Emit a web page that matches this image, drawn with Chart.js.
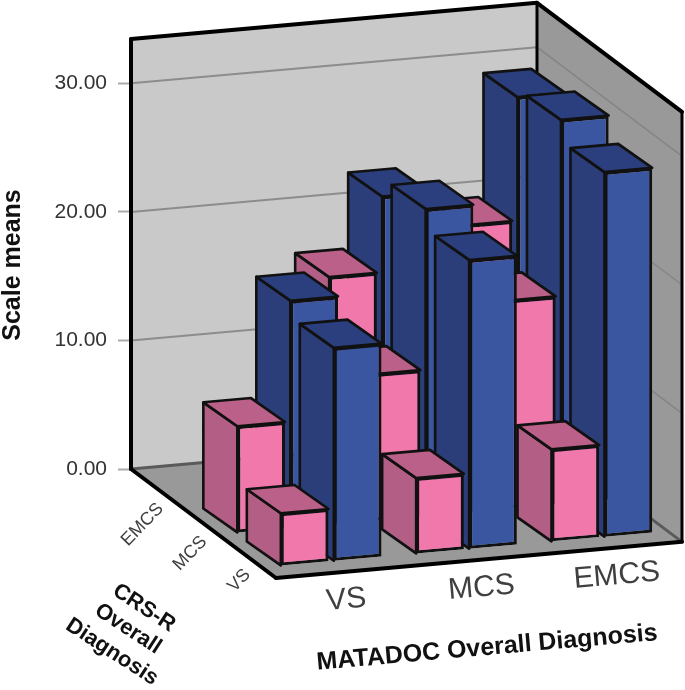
<!DOCTYPE html>
<html>
<head>
<meta charset="utf-8">
<style>
  body { margin: 0; background: #fff; }
  canvas { display: block; }
</style>
<script src="https://cdn.jsdelivr.net/npm/chart.js@4"></script>
</head>
<body>
<canvas class="js-chart" width="685" height="690"></canvas>
<script>
const xLabels = ['VS', 'MCS', 'EMCS'];
const rowLabels = ['VS', 'MCS', 'EMCS'];
const yTickStep = 10;
const yMax = 33.45;

// one pair of arrays per CRS-R row, values follow xLabels
const pinkRowVS = [4.1, 5.9, 7.2];
const blueRowVS = [16.6, 22.5, 28.4];
const pinkRowMCS = [8.3, 11.4, 16.2];
const blueRowMCS = [17.7, 23.9, 29.9];
const pinkRowEMCS = [null, 16.4, 19.5];
const blueRowEMCS = [null, 22.3, 29.1];

const PINK = { front: '#f178aa', side: '#b35f85', top: '#bb6089' };
const BLUE = { front: '#3a56a0', side: '#2b3e7a', top: '#2b3f7e' };

// oblique view of the box
const SHEAR = -0.089;
const ROW_SHIFT = [[132.5, 98.5], [89, 65.5], [45.5, 32.5]];
const FLOOR_SHIFT = [145, 109];
const BAR_DEPTH = [-34, -27];

function path(c, pts) {
    c.beginPath();
    pts.forEach((p, i) => (i ? c.lineTo(p[0], p[1]) : c.moveTo(p[0], p[1])));
    c.closePath();
}

function line(c, a, b, color, width) {
    c.strokeStyle = color;
    c.lineWidth = width;
    c.lineCap = 'round';
    c.beginPath();
    c.moveTo(a[0], a[1]);
    c.lineTo(b[0], b[1]);
    c.stroke();
}

function label(c, text, x, y, angle, font, color, align) {
    c.save();
    c.translate(x, y);
    c.rotate(angle * Math.PI / 180);
    c.font = font;
    c.fillStyle = color;
    c.textAlign = align || 'center';
    c.textBaseline = 'middle';
    c.fillText(text, 0, 0);
    c.restore();
}

const boxPlugin = {
    id: 'box',
    beforeDatasetsDraw(chart) {
        const c = chart.ctx;
        const { left, right, top, bottom } = chart.chartArea;
        const rise = SHEAR * (right - left);
        const [fx, fy] = FLOOR_SHIFT;
        const backTL = [left, top], backBL = [left, bottom];
        const backTR = [right, top + rise], backBR = [right, bottom + rise];
        const frontTR = [right + fx, top + rise + fy], frontBR = [right + fx, bottom + rise + fy];
        const frontBL = [left + fx, bottom + fy];

        c.save();
        c.fillStyle = '#c9c9c9';
        path(c, [backTL, backTR, backBR, backBL]);
        c.fill();
        c.fillStyle = '#999999';
        path(c, [backTR, frontTR, frontBR, backBR]);
        c.fill();
        path(c, [backBL, backBR, frontBR, frontBL]);
        c.fill();

        chart.scales.y.ticks.forEach((t) => {
            if (t.value === 0) return;
            const y = chart.scales.y.getPixelForValue(t.value);
            line(c, [left, y], [right, y + rise], '#8c8c8c', 2);
            line(c, [right, y + rise], [right + fx, y + rise + fy], '#858585', 1.5);
        });

        line(c, backBL, backBR, '#5a5a5a', 3);
        line(c, backBR, frontBR, '#5a5a5a', 3);
        line(c, backTL, backBL, '#000', 4);
        line(c, backTL, backTR, '#000', 4);
        line(c, backTR, backBR, '#000', 3);
        line(c, backTR, frontTR, '#000', 4);
        line(c, frontTR, frontBR, '#000', 3);
        line(c, backBL, frontBL, '#000', 4);
        line(c, frontBL, frontBR, '#000', 4);
        c.restore();
    },
    beforeDatasetDraw(chart, args) {
        const c = chart.ctx;
        const ds = chart.data.datasets[args.index];
        const [dx, dy] = ROW_SHIFT[ds.row];
        const [bx, by] = BAR_DEPTH;
        c.save();
        c.transform(1, SHEAR, 0, 1, dx, dy - SHEAR * chart.chartArea.left);
        c.lineWidth = 2.6;
        c.lineJoin = 'round';
        c.strokeStyle = '#111';
        args.meta.data.forEach((bar, i) => {
            if (ds.data[i] === null) return;
            const x0 = bar.x - bar.width / 2;
            const x1 = bar.x + bar.width / 2;
            c.fillStyle = ds.faces.side;
            path(c, [[x0, bar.y], [x0 + bx, bar.y + by], [x0 + bx, bar.base + by], [x0, bar.base]]);
            c.fill();
            c.stroke();
            c.fillStyle = ds.faces.top;
            path(c, [[x0, bar.y], [x1, bar.y], [x1 + bx, bar.y + by], [x0 + bx, bar.y + by]]);
            c.fill();
            c.stroke();
        });
    },
    afterDatasetDraw(chart) {
        chart.ctx.restore();
    },
    afterDraw(chart) {
        const c = chart.ctx;
        const { left, bottom } = chart.chartArea;
        const xScale = chart.scales.x;
        xLabels.forEach((text, i) => {
            const px = xScale.getPixelForTick(i);
            label(c, text, px + 147.5, bottom + SHEAR * (px - left) + 137, -5, '30px "Liberation Sans"', '#404040');
        });
        rowLabels.forEach((text, i) => {
            const [dx, dy] = ROW_SHIFT[i];
            label(c, text, left + dx - 16, bottom + dy + 4.5, -46, '18px "Liberation Sans"', '#404040', 'right');
        });
        label(c, 'Scale means', 13, 265, -90, 'bold 25px "Liberation Sans"', '#111');
        label(c, 'MATADOC Overall Diagnosis', 487, 648, -5, 'bold 25px "Liberation Sans"', '#111');
        label(c, 'CRS-R', 144, 608, 33, 'bold 22px "Liberation Sans"', '#111');
        label(c, 'Overall', 128, 629, 33, 'bold 22px "Liberation Sans"', '#111');
        label(c, 'Diagnosis', 112, 652, 33, 'bold 22px "Liberation Sans"', '#111');
    }
};

function barSet(values, faces, stack, row) {
    return {
        data: values,
        faces: faces,
        stack: stack,
        row: row,
        clip: false,
        backgroundColor: faces.front,
        borderColor: '#111',
        borderWidth: 3,
        borderSkipped: false,
        barPercentage: 0.9,
        categoryPercentage: 0.783
    };
}

new Chart(document.querySelector('.js-chart').getContext('2d'), {
    type: 'bar',
    data: {
        labels: xLabels,
        // later datasets are painted first, so the back row goes last
        datasets: [
            barSet(pinkRowVS, PINK, 'pink', 0),
            barSet(blueRowVS, BLUE, 'blue', 0),
            barSet(pinkRowMCS, PINK, 'pink', 1),
            barSet(blueRowMCS, BLUE, 'blue', 1),
            barSet(pinkRowEMCS, PINK, 'pink', 2),
            barSet(blueRowEMCS, BLUE, 'blue', 2)
        ]
    },
    options: {
        responsive: false,
        animation: false,
        events: [],
        layout: { padding: { top: 39, right: 148, left: 0, bottom: 0 } },
        plugins: { legend: { display: false }, tooltip: { enabled: false } },
        scales: {
            x: {
                grid: { display: false },
                border: { display: false },
                ticks: { display: false },
                afterFit(scale) { scale.height = 221; }
            },
            y: {
                stacked: false,
                min: 0,
                max: yMax,
                border: { display: false },
                grid: { drawOnChartArea: false, tickLength: 13, tickWidth: 2, tickColor: '#ababab' },
                ticks: {
                    stepSize: yTickStep,
                    includeBounds: false,
                    padding: 11,
                    color: '#333',
                    font: { family: '"Liberation Sans"', size: 21 },
                    callback(value) { return value.toFixed(2); }
                },
                afterFit(scale) { scale.width = 131; }
            }
        }
    },
    plugins: [boxPlugin]
});
</script>
</body>
</html>
